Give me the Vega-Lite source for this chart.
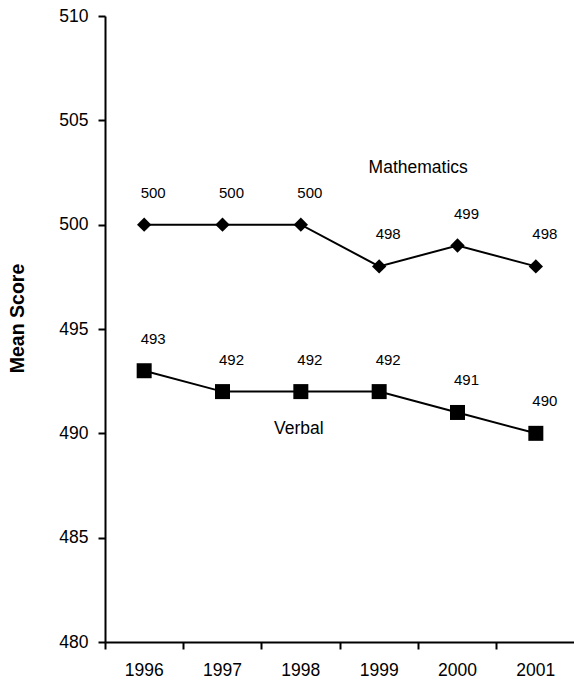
{
  "$schema": "https://vega.github.io/schema/vega-lite/v6.json",
  "width": 470,
  "height": 626,
  "autosize": "none",
  "padding": {"left": 105, "top": 16, "right": 0, "bottom": 43},
  "background": "white",
  "config": {
    "view": {"stroke": null},
    "font": "Liberation Sans",
    "axis": {"grid": false, "domainColor": "black", "domainWidth": 2, "tickColor": "black", "tickWidth": 2, "tickSize": 7, "labelColor": "black", "labelFont": "Liberation Sans", "labelFontSize": 17.5, "titleFont": "Liberation Sans", "titleColor": "black"}
  },
  "data": {
    "values": [
      {"year": "1996", "subject": "Mathematics", "score": 500},
      {"year": "1997", "subject": "Mathematics", "score": 500},
      {"year": "1998", "subject": "Mathematics", "score": 500},
      {"year": "1999", "subject": "Mathematics", "score": 498},
      {"year": "2000", "subject": "Mathematics", "score": 499},
      {"year": "2001", "subject": "Mathematics", "score": 498},
      {"year": "1996", "subject": "Verbal", "score": 493},
      {"year": "1997", "subject": "Verbal", "score": 492},
      {"year": "1998", "subject": "Verbal", "score": 492},
      {"year": "1999", "subject": "Verbal", "score": 492},
      {"year": "2000", "subject": "Verbal", "score": 491},
      {"year": "2001", "subject": "Verbal", "score": 490}
    ]
  },
  "encoding": {
    "x": {
      "field": "year", "type": "ordinal",
      "scale": {"type": "band", "paddingInner": 0, "paddingOuter": 0},
      "axis": {"title": null, "labelAngle": 0, "bandPosition": 0, "labelPadding": 12}
    },
    "y": {
      "field": "score", "type": "quantitative",
      "scale": {"domain": [480, 510], "nice": false, "zero": false},
      "axis": {"title": "Mean Score", "values": [480, 485, 490, 495, 500, 505, 510], "labelPadding": 10, "titleFontSize": 19.5, "titleFontWeight": "bold", "titleX": -78, "titleY": 302}
    }
  },
  "layer": [
    {
      "mark": {"type": "line", "color": "black", "strokeWidth": 2},
      "encoding": {"detail": {"field": "subject"}}
    },
    {
      "mark": {"type": "point", "filled": true, "color": "black", "opacity": 1},
      "encoding": {
        "shape": {"field": "subject", "scale": {"domain": ["Mathematics", "Verbal"], "range": ["diamond", "square"]}, "legend": null},
        "size": {"field": "subject", "scale": {"domain": ["Mathematics", "Verbal"], "range": [205, 225]}, "legend": null}
      }
    },
    {
      "mark": {"type": "text", "dx": 9, "dy": -32, "fontSize": 15, "color": "black"},
      "encoding": {"text": {"field": "score", "type": "quantitative"}}
    },
    {
      "data": {"values": [{"year": "1999", "score": 502.7, "label": "Mathematics"}]},
      "mark": {"type": "text", "dx": 39, "fontSize": 17.5, "color": "black"},
      "encoding": {"text": {"field": "label"}}
    },
    {
      "data": {"values": [{"year": "1998", "score": 490.2, "label": "Verbal"}]},
      "mark": {"type": "text", "dx": -2, "fontSize": 17.5, "color": "black"},
      "encoding": {"text": {"field": "label"}}
    }
  ]
}
